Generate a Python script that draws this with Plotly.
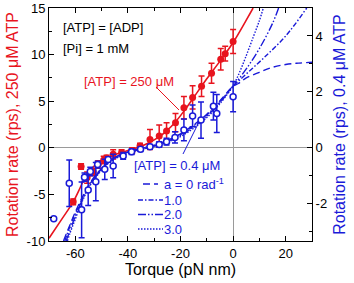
import plotly.graph_objects as go

RED = "#e8141e"
BLUE = "#1a1ad8"
FONT = "Liberation Sans, Arial, Helvetica, sans-serif"

# ---- data: [ATP] = 250 uM (left axis, rps) ----
red_x = [-60.8, -57.8, -55.5, -53.2, -51.3, -49.2, -48.1, -45.6, -42.4, -38.4, -35.4,
         -31.6, -28.1, -25.3, -21.9, -18.7, -15.4, -12.0, -8.2, -4.7, -3.0, 0.0]
red_y = [-5.8, -2.0, -3.2, -2.6, -1.8, -1.3, -1.1, -0.7, -0.5, -0.3, 0.2,
         0.9, 1.27, 1.8, 2.7, 4.3, 5.4, 6.6, 8.0, 9.5, 10.1, 11.4]
red_err = [0.3, 0.3, 0.6, 0.4, 0.4, 0.4, 0.3, 0.5, 0.3, 0.3, 0.3,
           1.07, 1.18, 0.9, 0.97, 1.2, 1.25, 1.1, 1.07, 1.16, 0.8, 1.29]

red_fit_x = [-70, -65, -60.8, -58, -56, -54, -52, -50, -47, -44, -40, -36, -32, -28,
             -25, -22, -18, -15, -10, -5, 0, 5, 7.6]
red_fit_y = [-9.7, -7.6, -5.8, -4.2, -3.0, -2.3, -1.75, -1.4, -1.0, -0.65, -0.3, 0.05,
             0.55, 1.2, 1.9, 2.75, 4.2, 5.4, 7.4, 9.3, 11.3, 13.7, 15.0]

# ---- data: [ATP] = 0.4 uM (right axis, rps) ----
blue_x = [-68.2, -62.3, -57.6, -56.5, -55.1, -54.3, -52.2, -51.5, -48.8, -47.5, -45.6,
          -41.8, -38.6, -35.2, -31.6, -28.1, -25.3, -22.1, -18.7, -15.4, -12.2, -7.5, -6.2, 0.0]
blue_y = [-2.54, -1.27, -2.22, -1.05, -1.51, -0.85, -1.21, -0.6, -0.77, -0.42, -0.65,
          -0.29, -0.14, -0.05, 0.04, 0.12, 0.22, 0.37, 0.64, 1.14, 0.99, 1.49, 1.23, 1.83]
blue_err = [0.0, 0.83, 1.0, 0.15, 0.55, 0.15, 0.68, 0.12, 0.36, 0.1, 0.42,
            0.12, 0.1, 0.08, 0.08, 0.1, 0.12, 0.2, 0.39, 0.39, 0.65, 0.5, 0.68, 0.54]

# model curves, a = 0, 1, 2, 3 rad^-1
a0_x = [-64.5, -62, -60, -57.5, -55, -52, -48, -44, -40, -35, -30, -25, -20, -15, -10, -5, 0,
        2, 5, 10, 15, 20, 25, 30]
a0_y = [-3.33, -2.75, -2.3, -1.8, -1.35, -0.95, -0.55, -0.3, -0.15, -0.02, 0.1, 0.27, 0.5,
        0.82, 1.2, 1.68, 2.2, 2.3, 2.5, 2.7, 2.88, 2.98, 3.03, 3.06]
a1_x = [-64.0, -62, -60, -57.5, -55, -52, -48, -44, -40, -35, -30, -25, -20, -15, -10, -5, 0,
        5, 11.5, 20, 28]
a1_y = [-3.33, -2.8, -2.35, -1.85, -1.38, -0.97, -0.56, -0.31, -0.16, -0.03, 0.09, 0.25, 0.47,
        0.79, 1.17, 1.65, 2.2, 2.64, 3.2, 4.0, 5.0]
a2_x = [-63.5, -62, -60, -57.5, -55, -52, -48, -44, -40, -35, -30, -25, -20, -15, -10, -5, 0,
        5, 10, 15, 17.3]
a2_y = [-3.33, -2.95, -2.45, -1.9, -1.42, -1.0, -0.58, -0.33, -0.18, -0.05, 0.07, 0.22, 0.44,
        0.75, 1.13, 1.62, 2.2, 2.82, 3.55, 4.45, 5.0]
a3_x = [-63.0, -62, -60, -57.5, -55, -52, -48, -44, -40, -35, -30, -25, -20, -15, -10, -5, 0,
        2, 4.6, 7.7, 10, 11.5]
a3_y = [-3.33, -3.05, -2.55, -1.95, -1.45, -1.03, -0.6, -0.35, -0.2, -0.07, 0.05, 0.2, 0.4,
        0.7, 1.08, 1.58, 2.22, 2.6, 3.2, 3.97, 4.55, 5.0]

curve_names = ["a = 0", "1.0", "2.0", "3.0"]
curve_dash = ["7px,4px", "5px,2px,1.5px,2px", "8px,2px,1.5px,2px,1.5px,2px", "1.5px,1.5px"]

x_ticks = [-60, -40, -20, 0, 20]
x_ticktext = ["-60", "-40", "-20", "0", "20"]
x_minor = [-50, -30, -10, 10]
yl_ticks = [-10, -5, 0, 5, 10, 15]
yl_ticktext = ["-10", "-5", "0", "5", "10", "15"]
yl_minor = [-7.5, -2.5, 2.5, 7.5, 12.5]
yr_ticks = [-2, 0, 2, 4]
yr_ticktext = ["-2", "0", "2", "4"]
yr_minor = [-3, -1, 1, 3]

# ---- figure geometry ----
W, H = 354, 283
ML, MR, MT, MB = 49, 42, 8, 42
PW, PH = W - ML - MR, H - MT - MB


def px(x):
    return (x - ML) / PW


def py(y):
    return (H - MB - y) / PH


fig = go.Figure()

fig.add_trace(go.Scatter(x=red_fit_x, y=red_fit_y, mode="lines", yaxis="y",
                         line=dict(color=RED, width=1.6, shape="spline"),
                         showlegend=False, hoverinfo="skip"))

for cx, cy, dash in zip([a0_x, a1_x, a2_x, a3_x], [a0_y, a1_y, a2_y, a3_y], curve_dash):
    fig.add_trace(go.Scatter(x=cx, y=cy, mode="lines", yaxis="y2",
                             line=dict(color=BLUE, width=1.4, dash=dash, shape="spline"),
                             showlegend=False, hoverinfo="skip"))

fig.add_trace(go.Scatter(x=red_x, y=red_y, mode="markers", yaxis="y",
                         marker=dict(symbol="circle", size=7, color=RED),
                         error_y=dict(type="data", array=red_err, color=RED,
                                      thickness=1.5, width=3),
                         showlegend=False))

fig.add_trace(go.Scatter(x=blue_x, y=blue_y, mode="markers", yaxis="y2",
                         marker=dict(symbol="circle", size=6, color="white",
                                     line=dict(color=BLUE, width=1.5)),
                         error_y=dict(type="data", array=blue_err, color=BLUE,
                                      thickness=1.5, width=3),
                         showlegend=False))

tickfont = dict(family=FONT, size=13, color="black")

fig.update_layout(
    template="none",
    width=W, height=H,
    margin=dict(l=ML, r=MR, t=MT, b=MB, pad=0),
    paper_bgcolor="white", plot_bgcolor="white",
    font=dict(family=FONT, size=13, color="black"),
    showlegend=False,
    xaxis=dict(range=[-70, 30], tickvals=x_ticks, ticktext=x_ticktext, automargin=False,
               ticks="inside", ticklen=5, tickwidth=1, tickcolor="black",
               minor=dict(ticks="inside", ticklen=3, tickvals=x_minor, tickcolor="black"),
               showline=True, linecolor="black", linewidth=1, mirror="ticks",
               showgrid=False, zeroline=True, zerolinecolor="#9a9a9a", zerolinewidth=1,
               tickfont=tickfont,
               title=dict(text="Torque (pN nm)", font=dict(family=FONT, size=16, color="black"),
                          standoff=0)),
    yaxis=dict(range=[-10, 15], tickvals=yl_ticks, ticktext=yl_ticktext, automargin=False,
               ticks="inside", ticklen=5, tickwidth=1, tickcolor="black",
               minor=dict(ticks="inside", ticklen=3, tickvals=yl_minor, tickcolor="black"),
               showline=True, linecolor="black", linewidth=1,
               showgrid=False, zeroline=True, zerolinecolor="#9a9a9a", zerolinewidth=1,
               tickfont=tickfont,
               title=dict(text="Rotation rate (rps), 250 \u03bcM ATP",
                          font=dict(family=FONT, size=16, color=RED), standoff=4)),
    yaxis2=dict(range=[-10 / 3, 5], overlaying="y", side="right", automargin=False,
                tickvals=yr_ticks, ticktext=yr_ticktext,
                ticks="inside", ticklen=5, tickwidth=1, tickcolor="black",
                minor=dict(ticks="inside", ticklen=3, tickvals=yr_minor, tickcolor="black"),
                showline=True, linecolor="black", linewidth=1,
                showgrid=False, zeroline=False, tickfont=tickfont,
                title=dict(text="Rotation rate (rps), 0.4 \u03bcM ATP",
                           font=dict(family=FONT, size=16, color=BLUE), standoff=7)),
)

ann = []
ann.append(dict(text="[ATP] = [ADP]", xref="paper", yref="paper", x=px(61), y=py(28),
                xanchor="left", yanchor="middle", showarrow=False,
                font=dict(family=FONT, size=13, color="black")))
ann.append(dict(text="[Pi] = 1 mM", xref="paper", yref="paper", x=px(61), y=py(48),
                xanchor="left", yanchor="middle", showarrow=False,
                font=dict(family=FONT, size=13, color="black")))
ann.append(dict(text="[ATP] = 250 \u03bcM", xref="paper", yref="paper", x=px(129), y=py(81),
                xanchor="center", yanchor="middle", showarrow=False,
                font=dict(family=FONT, size=13, color=RED)))
ann.append(dict(text="[ATP] = 0.4 \u03bcM", xref="paper", yref="paper", x=px(132), y=py(166),
                xanchor="left", yanchor="middle", showarrow=False,
                font=dict(family=FONT, size=13, color=BLUE)))
ann.append(dict(text="a = 0 rad<sup>-1</sup>", xref="paper", yref="paper", x=px(162), y=py(184),
                xanchor="left", yanchor="middle", showarrow=False,
                font=dict(family=FONT, size=13, color=BLUE)))
for name, yy in zip(curve_names[1:], [200, 214.5, 229]):
    ann.append(dict(text=name, xref="paper", yref="paper", x=px(184), y=py(yy),
                    xanchor="right", yanchor="middle", showarrow=False,
                    font=dict(family=FONT, size=13, color=BLUE)))
fig.update_layout(annotations=ann)

shapes = []
# leader lines
shapes.append(dict(type="line", xref="paper", yref="paper", x0=px(156), y0=py(87),
                   x1=px(179), y1=py(110), line=dict(color=RED, width=1)))
shapes.append(dict(type="line", xref="paper", yref="paper", x0=px(183), y0=py(154),
                   x1=px(199), y1=py(122), line=dict(color=BLUE, width=1)))
# key samples
key_rows = [(143, 158, 184), (138, 163, 200), (138, 163, 214.5), (138, 163, 229)]
for (x0, x1, yy), dash in zip(key_rows, curve_dash):
    shapes.append(dict(type="line", xref="paper", yref="paper", x0=px(x0), y0=py(yy),
                       x1=px(x1), y1=py(yy), line=dict(color=BLUE, width=1.4, dash=dash)))
fig.update_layout(shapes=shapes)

fig.write_html("out.html",
               config={"displayModeBar": False, "staticPlot": True},
               post_script="document.body.style.margin='0';document.body.style.overflow='hidden';")
